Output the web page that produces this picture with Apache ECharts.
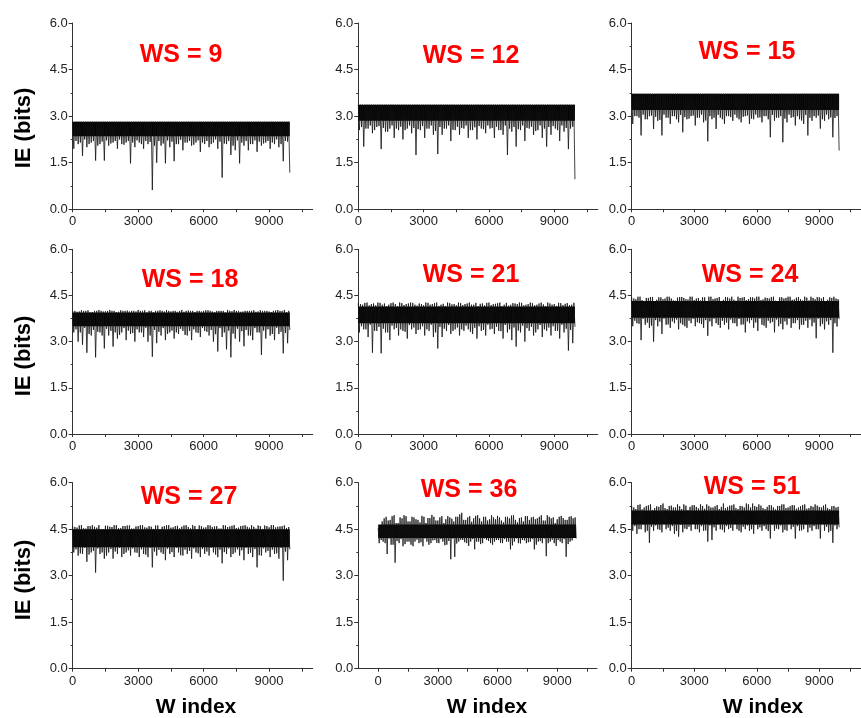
<!DOCTYPE html>
<html>
<head>
<meta charset="utf-8">
<script src="https://cdn.jsdelivr.net/npm/echarts@6/dist/echarts.min.js"></script>
<style>
html,body{margin:0;padding:0;background:#fff}
#main{width:861px;height:718px}
</style>
</head>
<body>
<div id="main"></div>
<script>
// panel titles
var wsLabels = ['WS = 9','WS = 12','WS = 15','WS = 18','WS = 21','WS = 24','WS = 27','WS = 36','WS = 51'];
var xLabelTicks = [0,3000,6000,9000];
var xMinorTicks = [0,1500,3000,4500,6000,7500,9000,10500];

// IE values, every 50 W index:
// hi = upper points (W 0,100,200,...), lo = lower points (W 50,150,250,...)
var hi9 = [2.82,2.82,2.82,2.82,2.82,2.82,2.82,2.82,2.82,2.82,
	2.82,2.82,2.82,2.82,2.82,2.82,2.82,2.82,2.82,2.82,
	2.82,2.82,2.82,2.82,2.82,2.82,2.82,2.82,2.82,2.82,
	2.82,2.82,2.82,2.82,2.82,2.82,2.82,2.82,2.82,2.82,
	2.82,2.82,2.82,2.82,2.82,2.82,2.82,2.82,2.82,2.82,
	2.82,2.82,2.82,2.82,2.82,2.82,2.82,2.82,2.82,2.82,
	2.82,2.82,2.82,2.82,2.82,2.82,2.82,2.82,2.82,2.82,
	2.82,2.82,2.82,2.82,2.82,2.82,2.82,2.82,2.82,2.82,
	2.82,2.82,2.82,2.82,2.82,2.82,2.82,2.82,2.82,2.82,
	2.82,2.82,2.82,2.82,2.82,2.82,2.82,2.82,2.82,2.82];
var lo9 = [1.95,2.2,2.1,2.15,1.72,2.25,2.0,2.1,2.15,2.2,1.57,2.05,2.1,2.18,1.57,2.22,2.05,2.12,2.15,2.2,
	1.95,2.25,2.1,2.08,2.15,2.2,1.48,2.15,2.0,2.22,2.15,2.1,1.95,2.2,2.1,2.17,0.62,2.05,1.5,2.2,
	2.05,2.12,1.48,2.22,2.0,2.18,1.55,2.1,2.1,2.24,1.9,2.15,2.15,2.2,2.05,2.08,2.15,2.22,1.85,2.15,
	2.1,2.2,2.0,2.1,2.15,2.25,1.95,2.18,1.02,2.12,2.1,2.2,1.75,2.05,1.9,2.22,1.48,2.15,2.05,2.2,
	1.9,2.1,2.1,2.22,1.85,2.18,2.05,2.12,2.15,2.2,1.95,2.15,2.1,2.25,2.0,2.1,1.55,2.2,2.18,1.18];

var hi12 = [3.37,3.37,3.37,3.37,3.37,3.37,3.37,3.37,3.37,3.37,
	3.37,3.37,3.37,3.37,3.37,3.37,3.37,3.37,3.37,3.37,
	3.37,3.37,3.37,3.37,3.37,3.37,3.37,3.37,3.37,3.37,
	3.37,3.37,3.37,3.37,3.37,3.37,3.37,3.37,3.37,3.37,
	3.37,3.37,3.37,3.37,3.37,3.37,3.37,3.37,3.37,3.37,
	3.37,3.37,3.37,3.37,3.37,3.37,3.37,3.37,3.37,3.37,
	3.37,3.37,3.37,3.37,3.37,3.37,3.37,3.37,3.37,3.37,
	3.37,3.37,3.37,3.37,3.37,3.37,3.37,3.37,3.37,3.37,
	3.37,3.37,3.37,3.37,3.37,3.37,3.37,3.37,3.37,3.37,
	3.37,3.37,3.37,3.37,3.37,3.37,3.37,3.37,3.37,3.37];
var lo12 = [2.55,2.65,2.02,2.6,2.6,2.7,2.45,2.55,2.65,2.68,1.94,2.62,2.5,2.5,2.6,2.7,2.3,2.6,2.55,2.66,
	2.25,2.55,2.6,2.7,2.45,2.62,1.75,2.58,2.55,2.68,2.3,2.6,2.6,2.7,2.4,2.52,1.78,2.65,2.4,2.6,
	2.6,2.7,2.2,2.56,2.55,2.66,2.4,2.62,2.6,2.7,2.3,2.55,2.55,2.64,2.25,2.68,2.6,2.58,2.45,2.7,
	2.6,2.62,2.3,2.66,2.55,2.55,2.4,2.7,1.75,2.6,2.5,2.65,2.02,2.58,2.55,2.7,2.2,2.62,2.6,2.66,
	2.4,2.52,2.55,2.7,2.3,2.6,2.02,2.65,2.4,2.68,2.6,2.55,2.2,2.7,2.5,2.62,1.94,2.6,2.66,0.97];

var hi15 = [3.72,3.72,3.72,3.72,3.72,3.72,3.72,3.72,3.72,3.72,
	3.72,3.72,3.72,3.72,3.72,3.72,3.72,3.72,3.72,3.72,
	3.72,3.72,3.72,3.72,3.72,3.72,3.72,3.72,3.72,3.72,
	3.72,3.72,3.72,3.72,3.72,3.72,3.72,3.72,3.72,3.72,
	3.72,3.72,3.72,3.72,3.72,3.72,3.72,3.72,3.72,3.72,
	3.72,3.72,3.72,3.72,3.72,3.72,3.72,3.72,3.72,3.72,
	3.72,3.72,3.72,3.72,3.72,3.72,3.72,3.72,3.72,3.72,
	3.72,3.72,3.72,3.72,3.72,3.72,3.72,3.72,3.72,3.72,
	3.72,3.72,3.72,3.72,3.72,3.72,3.72,3.72,3.72,3.72,
	3.72,3.72,3.72,3.72,3.72,3.72,3.72,3.72,3.72,3.72];
var lo15 = [2.75,3.0,3.0,2.95,2.38,3.05,2.9,2.9,3.0,3.02,2.59,2.98,2.85,2.88,2.38,3.05,2.95,2.95,2.75,3.0,
	3.0,2.9,2.8,3.04,2.48,2.97,2.9,2.92,3.0,3.02,2.7,2.95,2.95,3.05,2.8,2.86,2.19,3.0,2.9,2.95,
	2.59,3.04,2.95,2.9,2.75,3.0,3.0,2.97,2.85,3.05,2.95,2.9,2.8,2.98,3.0,3.02,2.75,2.92,2.9,3.05,
	2.95,2.96,2.8,3.0,3.0,2.9,2.32,3.04,2.85,2.95,2.95,3.0,2.16,2.92,2.8,3.05,2.95,2.97,2.7,3.0,
	2.9,2.86,2.75,3.04,2.38,2.95,2.85,3.0,2.95,3.02,2.6,2.9,2.85,3.05,2.9,2.96,2.32,2.94,3.0,1.89];

var hi18 = [4.0,4.0,3.97,3.98,4.02,4.0,4.0,4.02,3.95,3.96,4.0,4.0,4.03,4.0,3.98,3.99,4.0,4.03,4.0,4.0,
	3.96,3.97,4.02,4.0,4.0,4.01,3.98,4.0,4.0,3.98,4.03,4.0,4.0,4.02,3.95,4.0,4.0,3.96,4.0,4.0,
	4.02,4.0,3.98,4.03,4.0,3.98,4.0,4.0,3.97,4.0,4.03,3.97,4.0,4.01,4.0,4.0,3.96,4.0,4.0,3.98,
	4.0,4.02,4.02,4.0,3.98,3.96,4.0,4.0,4.0,4.0,3.95,4.03,4.0,3.99,4.03,4.0,4.0,3.97,3.98,4.0,
	4.0,4.0,4.0,4.02,3.97,3.98,4.02,4.0,4.0,4.0,3.98,3.96,4.0,4.01,4.03,4.0,4.0,4.03,3.96,4.0];
var lo18 = [3.3,3.4,3.0,3.3,2.9,3.45,2.64,3.25,3.2,3.38,2.49,3.32,3.3,3.2,2.78,3.42,3.2,3.35,2.84,3.3,
	3.1,3.22,3.3,3.44,3.05,3.36,3.25,3.28,3.0,3.4,3.3,3.3,3.15,3.45,3.0,3.2,2.51,3.38,2.95,3.32,
	3.2,3.44,3.05,3.25,3.3,3.36,3.1,3.3,3.25,3.42,3.35,3.22,3.2,3.35,3.05,3.4,3.3,3.28,3.15,3.45,
	3.35,3.32,3.2,3.38,3.0,3.24,2.68,3.44,3.15,3.3,2.75,3.36,2.49,3.26,3.1,3.42,3.0,3.34,2.85,3.38,
	3.2,3.2,3.05,3.44,3.3,3.3,2.57,3.36,3.1,3.4,3.2,3.25,3.05,3.45,3.25,3.32,2.62,3.28,2.95,3.38];

var hi21 = [4.25,4.22,4.2,4.26,4.27,4.18,4.22,4.24,4.18,4.27,4.26,4.2,4.24,4.15,4.2,4.25,4.27,4.22,4.15,4.27,
	4.25,4.19,4.22,4.24,4.27,4.26,4.2,4.17,4.24,4.22,4.18,4.27,4.26,4.2,4.22,4.25,4.27,4.16,4.2,4.23,
	4.16,4.27,4.25,4.21,4.22,4.18,4.27,4.25,4.19,4.22,4.24,4.27,4.2,4.2,4.26,4.15,4.23,4.24,4.18,4.26,
	4.27,4.19,4.22,4.23,4.25,4.27,4.15,4.2,4.26,4.17,4.2,4.25,4.24,4.22,4.27,4.26,4.18,4.2,4.22,4.27,
	4.25,4.18,4.2,4.24,4.27,4.21,4.16,4.27,4.24,4.2,4.22,4.16,4.26,4.25,4.19,4.23,4.25,4.19,4.2,4.26];
var lo21 = [3.3,3.5,3.4,3.4,3.15,3.55,2.64,3.35,3.35,3.48,2.62,3.42,3.3,3.3,3.05,3.52,3.4,3.45,3.2,3.4,
	3.35,3.32,3.1,3.54,3.4,3.46,3.25,3.38,3.4,3.5,3.2,3.4,3.35,3.55,3.15,3.3,2.78,3.48,3.15,3.42,
	3.35,3.54,3.25,3.35,3.4,3.46,3.2,3.4,3.35,3.52,3.4,3.32,3.25,3.45,3.1,3.5,3.35,3.38,3.2,3.55,
	3.4,3.42,3.25,3.48,3.35,3.34,3.1,3.54,3.3,3.4,3.05,3.46,2.84,3.36,3.3,3.52,3.0,3.44,3.35,3.48,
	3.2,3.3,3.4,3.54,3.15,3.4,3.35,3.46,3.2,3.5,3.35,3.35,3.1,3.55,3.3,3.42,2.71,3.38,2.95,3.48];

var hi24 = [4.44,4.4,4.38,4.46,4.46,4.35,4.32,4.42,4.42,4.45,4.45,4.31,4.36,4.44,4.44,4.38,4.4,4.46,4.46,4.4,
	4.34,4.33,4.43,4.45,4.45,4.42,4.38,4.37,4.46,4.46,4.35,4.4,4.42,4.34,4.44,4.44,4.3,4.46,4.46,4.38,
	4.4,4.42,4.45,4.32,4.36,4.45,4.44,4.4,4.46,4.36,4.33,4.46,4.42,4.43,4.45,4.35,4.38,4.44,4.44,4.4,
	4.46,4.46,4.35,4.37,4.43,4.42,4.4,4.45,4.46,4.33,4.32,4.44,4.44,4.4,4.42,4.46,4.46,4.36,4.37,4.43,
	4.45,4.38,4.34,4.46,4.43,4.34,4.46,4.42,4.38,4.45,4.44,4.4,4.45,4.31,4.36,4.44,4.42,4.46,4.4,4.38];
var lo24 = [3.5,3.68,3.6,3.58,3.05,3.74,3.55,3.62,3.45,3.52,3.0,3.7,3.5,3.65,3.25,3.75,3.55,3.56,3.45,3.66,
	3.6,3.72,3.4,3.6,3.55,3.5,3.45,3.68,3.6,3.74,3.5,3.63,3.6,3.57,3.45,3.7,3.19,3.66,3.5,3.75,
	3.6,3.54,3.45,3.68,3.55,3.62,3.4,3.72,3.6,3.6,3.5,3.74,3.55,3.56,3.3,3.66,3.6,3.7,3.45,3.62,
	3.35,3.75,3.55,3.52,3.45,3.68,3.6,3.64,3.3,3.72,3.5,3.58,3.4,3.66,3.55,3.74,3.45,3.6,3.6,3.7,
	3.4,3.55,3.55,3.68,3.45,3.72,3.5,3.62,3.11,3.75,3.5,3.58,3.4,3.66,3.55,3.7,2.64,3.6,3.49,3.73];

var hi27 = [4.6,4.57,4.55,4.62,4.63,4.53,4.52,4.6,4.6,4.63,4.58,4.55,4.63,4.5,4.5,4.61,4.61,4.58,4.57,4.63,
	4.63,4.54,4.54,4.6,4.6,4.62,4.62,4.52,4.52,4.59,4.6,4.63,4.63,4.56,4.55,4.6,4.58,4.51,4.62,4.62,
	4.5,4.58,4.6,4.63,4.63,4.55,4.56,4.6,4.61,4.53,4.58,4.62,4.63,4.57,4.53,4.63,4.6,4.5,4.62,4.6,
	4.55,4.56,4.63,4.62,4.57,4.59,4.6,4.52,4.52,4.63,4.62,4.57,4.59,4.61,4.63,4.54,4.55,4.6,4.61,4.63,
	4.58,4.55,4.63,4.58,4.52,4.62,4.6,4.51,4.62,4.6,4.56,4.63,4.63,4.56,4.58,4.59,4.6,4.62,4.54,4.57];
var lo27 = [3.75,3.85,3.65,3.72,3.7,3.9,3.45,3.68,3.75,3.8,3.1,3.88,3.7,3.75,3.55,3.65,3.75,3.86,3.55,3.78,
	3.7,3.9,3.6,3.7,3.75,3.82,3.65,3.88,3.75,3.74,3.6,3.85,3.7,3.68,3.6,3.9,3.27,3.78,3.65,3.83,
	3.75,3.7,3.5,3.87,3.7,3.76,3.6,3.9,3.75,3.66,3.65,3.84,3.7,3.8,3.55,3.88,3.75,3.72,3.6,3.86,
	3.7,3.78,3.65,3.9,3.75,3.68,3.6,3.84,3.4,3.76,3.7,3.88,3.6,3.7,3.75,3.85,3.65,3.82,3.5,3.9,
	3.7,3.74,3.6,3.86,3.27,3.66,3.65,3.88,3.75,3.8,3.6,3.84,3.7,3.72,3.55,3.9,2.84,3.78,3.5,3.85];

var hi36 = [4.55,4.6,4.75,4.85,4.9,4.78,4.8,4.92,4.95,4.7,4.7,4.88,4.85,4.95,4.92,4.75,4.75,4.9,4.88,4.82,
	4.8,4.72,4.93,4.9,4.7,4.86,4.86,4.96,4.9,4.78,4.78,4.88,4.92,4.7,4.82,4.92,4.88,4.84,4.75,4.9,
	4.9,4.98,5.03,4.8,4.8,4.88,4.92,4.74,4.85,4.93,4.95,4.85,4.75,4.9,4.9,4.78,4.82,4.95,4.88,4.82,
	4.93,4.88,4.78,4.72,4.9,4.9,4.85,4.94,4.95,4.8,4.72,4.86,4.88,4.75,4.92,4.92,4.8,4.88,4.9,4.82,
	4.85,4.9,4.95,4.78,4.78,4.95,4.9,4.85,4.88,4.7,4.82,4.9,4.93,4.86,4.8,4.8,4.9,4.92,4.85,4.88];
var lo36 = [4.05,4.15,4.1,4.05,3.7,4.2,4.0,4.0,3.42,4.12,4.05,4.18,3.95,4.02,4.1,4.1,4.0,3.95,4.1,4.16,
	4.05,4.08,3.95,4.2,4.1,4.0,4.05,4.14,4.15,4.06,4.05,4.18,4.1,3.98,4.0,4.12,3.53,4.2,3.61,4.04,
	4.1,4.16,4.15,4.08,4.05,3.96,4.1,4.18,3.85,4.1,4.1,4.02,4.05,4.2,4.15,4.12,4.05,4.0,4.1,4.15,
	4.15,4.06,4.05,4.18,4.1,4.1,3.85,3.98,4.1,4.2,4.05,4.04,4.15,4.14,4.05,4.08,4.1,4.18,3.85,4.0,
	4.1,4.12,4.05,4.2,3.63,4.05,4.1,4.16,4.05,3.96,4.15,4.1,4.05,4.18,3.61,4.02,4.1,4.14,4.25,4.2];

var hi51 = [5.25,5.2,5.15,5.28,5.3,5.14,5.2,5.25,5.27,5.3,5.12,5.18,5.24,5.22,5.28,5.33,5.18,5.15,5.25,5.26,
	5.2,5.2,5.3,5.24,5.15,5.3,5.26,5.12,5.22,5.27,5.28,5.22,5.17,5.3,5.25,5.16,5.3,5.25,5.2,5.2,
	5.24,5.28,5.15,5.22,5.33,5.18,5.22,5.26,5.27,5.3,5.18,5.15,5.25,5.24,5.2,5.33,5.3,5.2,5.33,5.25,
	5.22,5.3,5.26,5.18,5.15,5.22,5.28,5.27,5.2,5.14,5.25,5.25,5.3,5.3,5.18,5.2,5.24,5.28,5.27,5.16,
	5.2,5.24,5.28,5.3,5.16,5.18,5.25,5.22,5.3,5.26,5.22,5.2,5.26,5.3,5.18,5.15,5.24,5.25,5.2,5.22];
var lo51 = [4.45,4.6,4.35,4.5,4.5,4.65,4.4,4.45,4.06,4.58,4.45,4.62,4.5,4.48,4.4,4.66,4.5,4.55,4.45,4.6,
	4.35,4.44,4.26,4.64,4.4,4.52,4.5,4.58,4.45,4.68,4.5,4.5,4.4,4.6,4.45,4.46,4.1,4.62,4.15,4.56,
	4.45,4.65,4.5,4.48,4.4,4.6,4.5,4.54,4.45,4.66,4.5,4.45,4.4,4.58,4.5,4.62,4.45,4.5,4.35,4.64,
	4.5,4.56,4.45,4.6,4.5,4.44,4.2,4.65,4.45,4.52,4.5,4.62,4.4,4.48,4.45,4.66,4.5,4.58,4.2,4.6,
	4.45,4.46,4.5,4.64,4.4,4.55,4.45,4.6,4.5,4.5,4.2,4.66,4.45,4.58,4.4,4.45,4.06,4.62,4.5,4.56];

// dense core of each trace (where the line is solid black)
var coreLo = [2.35, 2.85, 3.2, 3.5, 3.6, 3.78, 3.92, 4.22, 4.65];
var coreHi = [2.82, 3.37, 3.72, 3.95, 4.14, 4.32, 4.5, 4.65, 5.1];

var hiList = [hi9, hi12, hi15, hi18, hi21, hi24, hi27, hi36, hi51];
var loList = [lo9, lo12, lo15, lo18, lo21, lo24, lo27, lo36, lo51];
var xMin = [0, 0, 0, 0, 0, 0, 0, -1000, 0];

// layout
var colLeft = [72.7, 358.3, 631.7];
var colWidth = [240, 239.5, 240];
var rowTop = [23, 249.3, 482.7];
var rowHeight = [186.3, 184.7, 186];
var titlePos = [[181,55.5],[471,56],[747,52.5],[190,280],[471,275],[750,275],[189,497],[469,490],[752,487]];

var font = 'Liberation Sans, Arial, sans-serif';
var axisColor = '#333';

var grids = [], xAxes = [], yAxes = [], series = [], graphics = [];

for (var i = 0; i < 9; i++) {
	var r = Math.floor(i / 3), c = i % 3;
	var w = colWidth[c];
	if (i == 7) { w = 238.7; }
	grids.push({left: colLeft[c], top: rowTop[r], width: w, height: rowHeight[r], containLabel: false});

	xAxes.push({
		type: 'value', gridIndex: i, min: xMin[i], max: 11000,
		axisLine: {show: true, onZero: false, lineStyle: {color: axisColor, width: 1}},
		axisTick: {show: true, inside: false, length: 3, customValues: xMinorTicks, lineStyle: {color: axisColor}},
		axisLabel: {customValues: xLabelTicks, color: '#222', fontSize: 13, fontFamily: font, margin: 6,
			formatter: function (v) { return String(v); }},
		splitLine: {show: false}
	});
	yAxes.push({
		type: 'value', gridIndex: i, min: 0, max: 6, interval: 1.5,
		axisLine: {show: true, onZero: false, lineStyle: {color: axisColor, width: 1}},
		axisTick: {show: true, inside: false, length: 4, lineStyle: {color: axisColor}},
		minorTick: {show: true, splitNumber: 2, length: 2, lineStyle: {color: axisColor}},
		axisLabel: {color: '#222', fontSize: 13, fontFamily: font, margin: 5,
			formatter: function (v) { return v.toFixed(1); }},
		splitLine: {show: false}
	});

	// interleave upper / lower points into one trace
	var data = [];
	var hi = hiList[i], lo = loList[i];
	for (var k = 0; k < hi.length; k++) {
		data.push([k * 100, hi[k]]);
		data.push([k * 100 + 50, lo[k]]);
	}
	var lastW = data[data.length - 1][0];

	series.push({
		type: 'line', xAxisIndex: i, yAxisIndex: i, data: data,
		showSymbol: false, symbol: 'none',
		lineStyle: {color: '#111', width: 0.8},
		markArea: {
			silent: true,
			itemStyle: {color: '#000', borderWidth: 0},
			data: [[{coord: [0, coreLo[i]]}, {coord: [lastW, coreHi[i]]}]]
		},
		z: 3
	});

	graphics.push({
		type: 'text', x: titlePos[i][0], y: titlePos[i][1],
		style: {text: wsLabels[i], fill: '#ff0000', fontSize: 25, fontWeight: 'bold', fontFamily: font,
			align: 'center', verticalAlign: 'middle', textAlign: 'center', textVerticalAlign: 'middle'}
	});
}

// axis titles
var yNameY = [128, 356, 580];
for (var r = 0; r < 3; r++) {
	graphics.push({
		type: 'text', x: 23.5, y: yNameY[r], rotation: Math.PI / 2,
		style: {text: 'IE (bits)', fill: '#000', fontSize: 22, fontWeight: 'bold', fontFamily: font,
			align: 'center', verticalAlign: 'middle', textAlign: 'center', textVerticalAlign: 'middle'}
	});
}
var xNameX = [196, 487, 763];
for (var c = 0; c < 3; c++) {
	graphics.push({
		type: 'text', x: xNameX[c], y: 707,
		style: {text: 'W index', fill: '#000', fontSize: 21, fontWeight: 'bold', fontFamily: font,
			align: 'center', verticalAlign: 'middle', textAlign: 'center', textVerticalAlign: 'middle'}
	});
}

var myChart = echarts.init(document.getElementById('main'), null, {renderer: 'canvas'});
var option = {
	backgroundColor: '#fff',
	animation: false,
	grid: grids,
	xAxis: xAxes,
	yAxis: yAxes,
	series: series,
	graphic: graphics
};
myChart.setOption(option);
</script>
</body>
</html>
